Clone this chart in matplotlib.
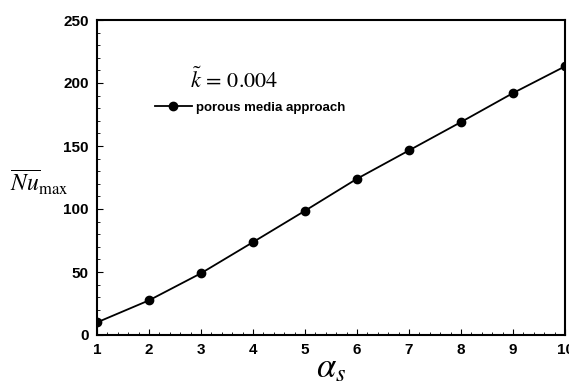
import numpy as np
import matplotlib.pyplot as plt
from matplotlib.ticker import MultipleLocator

alpha_s = [1, 2, 3, 4, 5, 6, 7, 8, 9, 10]
nu_max = [10.0, 27.5, 49.0, 73.7, 98.6, 124.0, 146.5, 169.0, 192.0, 213.2]

plt.rcParams['mathtext.fontset'] = 'stix'
plt.rcParams['font.family'] = 'Liberation Sans'

fig = plt.figure(figsize=(5.69, 3.88), dpi=100)
ax = fig.add_axes([97/569, 53/388, 468/569, 315/388])
line, = ax.plot(alpha_s, nu_max, color='black', lw=1.3, marker='o', ms=6,
                label='porous media approach')
ax.set_xlim(1, 10)
ax.set_ylim(0, 250)
ax.xaxis.set_major_locator(MultipleLocator(1))
ax.xaxis.set_minor_locator(MultipleLocator(0.2))
ax.yaxis.set_major_locator(MultipleLocator(50))
ax.yaxis.set_minor_locator(MultipleLocator(10))
ax.tick_params(which='both', direction='in', top=False, right=False)
ax.tick_params(which='major', length=4, width=0.8, labelsize=11, pad=6)
ax.tick_params(which='minor', length=2, width=0.6)
for lab in ax.get_xticklabels() + ax.get_yticklabels():
    lab.set_fontweight('bold')
for s in ax.spines.values():
    s.set_linewidth(1.5)

fig.text(0.5 * (97 + 565) / 569, 1 - 368/388, r'$\alpha_s$', fontsize=25,
         ha='center', va='center')
fig.text(10/569, 1 - 182/388, r'$\overline{Nu}_{\mathrm{max}}$', fontsize=17,
         va='center', ha='left')
fig.text(190/569, 1 - 80/388, r'$\tilde{k}\,=\,0.004$', fontsize=16,
         va='center')
ax.legend(loc='center left', bbox_to_anchor=(46/468, 1 - 88/315), frameon=False,
          prop={'weight': 'bold', 'size': 9.5}, handlelength=2.8,
          handletextpad=0.3)

plt.savefig('out.png', dpi=100)
